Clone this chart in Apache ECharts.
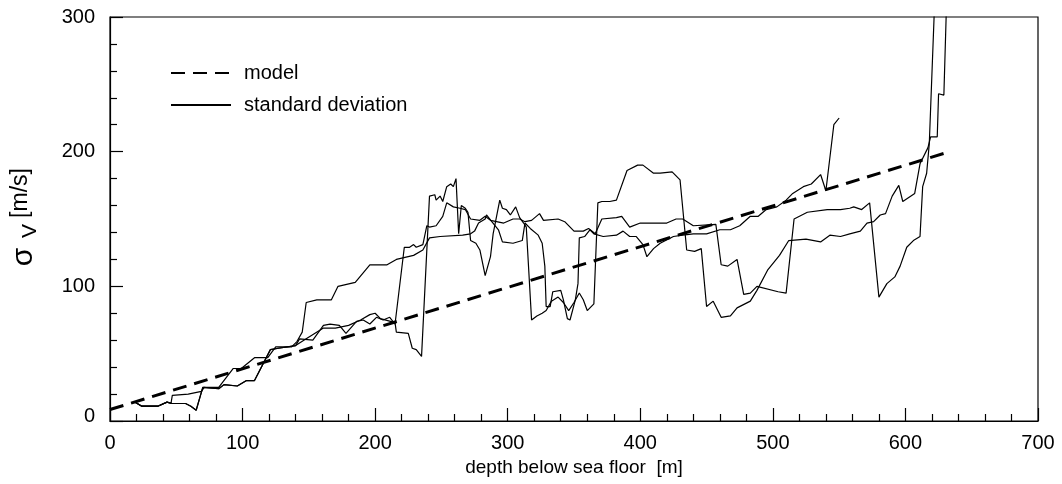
<!DOCTYPE html>
<html>
<head>
<meta charset="utf-8">
<script src="https://cdn.jsdelivr.net/npm/echarts@6/dist/echarts.min.js"></script>
<style>
  html, body { margin: 0; padding: 0; background: #fff; }
  #chart { width: 1062px; height: 484px; }
</style>
</head>
<body>
<div id="chart"></div>
<script>
// Linear model of velocity standard deviation vs depth: [depth m, sigma m/s]
const modelLine = [[0, 8.5], [630, 199]];

// Standard deviation profiles: [depth m, sigma m/s]
const sdProfile1 = [
  [19,14],[24,11],[36,11],[43,14],[46,13],[47,19],[59,20],[69,22],[71,25],[82,25],
  [93,39],[99,39],[109,47],[119,47],[125,55],[137,55],[141,59],[145,66],[148,88],[156,90],
  [167,90],[172,100],[185,103],[196,116],[209,116],[216,120],[229,123],[236,127],[241,136],[249,137],
  [266,138],[272,139],[275,141],[278,147],[283,150],[284,153],[288,148],[293,142],[296,133],[304,132],
  [311,134],[313,147],[317,143],[323,138],[326,132],[328,115],[329,85],[332,85],[334,96],[340,97],
  [342,90],[345,76],[347,75],[351,90],[353,102],[354,136],[358,137],[362,142],[365,139],[372,137],
  [382,138],[387,141],[392,137],[397,137],[402,131],[405,122],[410,128],[415,132],[425,137],[432,138],
  [440,139],[450,139],[460,142],[468,142],[475,145],[483,152],[489,152],[495,157],[503,159],[510,164],
  [515,169],[523,174],[529,176],[536,183],[540,171],[546,220],[550,225]
];

const sdProfile2 = [
  [19,14],[24,11],[36,11],[43,14],[47,13],[57,13],[61,11],[65,8],[70,25],[82,24],
  [86,27],[96,26],[103,30],[109,30],[121,53],[127,54],[140,56],[143,61],[153,60],[161,71],
  [166,72],[173,71],[178,65],[186,74],[191,75],[196,72],[201,77],[206,75],[211,77],[215,72],
  [222,129],[226,129],[229,131],[231,129],[236,131],[239,145],[241,144],[246,145],[251,152],[254,162],
  [259,159],[264,158],[268,157],[272,150],[279,149],[283,152],[287,149],[297,147],[304,150],[309,150],
  [313,148],[318,149],[324,154],[327,149],[338,150],[343,148],[350,141],[357,141],[361,143],[366,139],
  [371,150],[382,151],[386,152],[392,144],[400,147],[420,147],[427,150],[432,150],[440,145],[457,146],
  [461,116],[466,115],[473,120],[478,94],[483,95],[488,100],[504,96],[510,95],[516,150],[526,155],
  [541,157],[551,157],[558,158],[561,159],[567,157],[573,162],[580,92],[586,102],[592,107],[596,115],
  [601,129],[606,134],[611,137],[613,174],[616,184],[618,206],[622,310]
];

const sdProfile3 = [
  [19,14],[24,11],[36,11],[43,14],[47,13],[57,13],[61,11],[65,8],[70,25],[82,24],
  [86,27],[96,26],[103,30],[109,30],[121,53],[127,54],[140,56],[148,61],[161,69],[170,69],
  [180,71],[189,75],[196,79],[200,80],[204,76],[215,73],[216,66],[225,65],[228,54],[231,53],
  [235,48],[241,167],[245,168],[246,164],[249,167],[251,163],[254,174],[257,176],[259,174],[261,180],
  [263,139],[265,160],[268,158],[270,155],[272,134],[276,132],[279,127],[283,108],[287,122],[289,139],
  [294,164],[296,158],[299,157],[302,153],[306,159],[309,151],[312,147],[314,144],[318,75],[322,78],
  [326,80],[329,82],[333,89],[338,92],[342,88],[346,82],[350,88],[354,95],[357,90],[360,82],
  [365,87],[368,162],[371,163],[377,163],[382,164],[390,186],[398,190],[402,190],[410,184],[415,184],
  [424,185],[430,179],[435,127],[441,126],[446,128],[450,85],[455,89],[461,77],[468,78],[473,84],
  [483,89],[488,97],[496,112],[505,123],[512,134],[525,135],[536,133],[543,138],[551,137],[558,139],
  [566,141],[571,147],[576,148],[581,153],[585,154],[590,167],[595,175],[598,163],[607,169],[611,191],
  [617,203],[619,211],[624,211],[625,243],[629,242],[631,310]
];

const FONT = '"Liberation Sans", Arial, Helvetica, sans-serif';
const INK = '#000';

const chart = echarts.init(document.getElementById('chart'), null, { renderer: 'canvas' });

const sdLine = { color: INK, width: 1.2 };

chart.setOption({
  backgroundColor: '#fff',
  animation: false,
  grid: {
    left: 110, right: 24, top: 17, bottom: 63,
    show: true, borderColor: INK, borderWidth: 1.2, backgroundColor: 'transparent'
  },
  legend: {
    orient: 'vertical',
    left: 165, top: 58,
    itemWidth: 60, itemHeight: 14, itemGap: 12,
    data: ['model', 'standard deviation'],
    selectedMode: false,
    // line-only keys: hide the marker dot drawn in the middle of each key
    itemStyle: { opacity: 0 },
    textStyle: { fontFamily: FONT, fontSize: 20, color: INK, padding: [0, 0, 0, 8] }
  },
  xAxis: {
    type: 'value', min: 0, max: 700, interval: 100,
    name: 'depth below sea floor  [m]',
    nameLocation: 'middle', nameGap: 36,
    nameTextStyle: { fontFamily: FONT, fontSize: 19, color: INK },
    axisLine: { show: true, lineStyle: { color: INK, width: 1.2 } },
    axisTick: { show: true, inside: true, length: 13, lineStyle: { color: INK, width: 1.2 } },
    minorTick: { show: true, splitNumber: 5, length: 7, lineStyle: { color: INK, width: 1.2 } },
    splitLine: { show: false },
    axisLabel: { fontFamily: FONT, fontSize: 20, color: INK, margin: 12 }
  },
  yAxis: {
    type: 'value', min: 0, max: 300, interval: 100,
    axisLine: { show: true, lineStyle: { color: INK, width: 1.2 } },
    axisTick: { show: true, inside: true, length: 13, lineStyle: { color: INK, width: 1.2 } },
    minorTick: { show: true, splitNumber: 5, length: 7, lineStyle: { color: INK, width: 1.2 } },
    splitLine: { show: false },
    axisLabel: {
      fontFamily: FONT, fontSize: 20, color: INK, margin: 15,
      formatter: v => (v === 0 ? '{z|0}' : String(v)),
      rich: { z: { fontFamily: FONT, fontSize: 20, color: INK, padding: [0, 0, 10, 0] } }
    }
  },
  graphic: [
    { type: 'text', x: 24, y: 257, rotation: Math.PI / 2, silent: true,
      style: { text: 'σ', fontFamily: FONT, fontSize: 30, fill: INK,
               align: 'center', verticalAlign: 'middle', textAlign: 'center', textVerticalAlign: 'middle' } },
    { type: 'text', x: 30, y: 231, rotation: Math.PI / 2, silent: true,
      style: { text: 'V', fontFamily: FONT, fontSize: 21, fill: INK,
               align: 'center', verticalAlign: 'middle', textAlign: 'center', textVerticalAlign: 'middle' } },
    { type: 'text', x: 21, y: 193, rotation: Math.PI / 2, silent: true,
      style: { text: '[m/s]', fontFamily: FONT, fontSize: 23, fill: INK,
               align: 'center', verticalAlign: 'middle', textAlign: 'center', textVerticalAlign: 'middle' } }
  ],
  series: [
    { name: 'model', type: 'line', data: modelLine, symbol: 'none', z: 4,
      lineStyle: { color: INK, width: 3, type: [14, 8], cap: 'butt' }, itemStyle: { color: INK } },
    { name: 'standard deviation', type: 'line', data: sdProfile1, symbol: 'none', clip: true,
      lineStyle: sdLine, itemStyle: { color: INK } },
    { name: 'standard deviation', type: 'line', data: sdProfile2, symbol: 'none', clip: true,
      lineStyle: sdLine, itemStyle: { color: INK } },
    { name: 'standard deviation', type: 'line', data: sdProfile3, symbol: 'none', clip: true,
      lineStyle: sdLine, itemStyle: { color: INK } }
  ]
});
</script>
</body>
</html>
